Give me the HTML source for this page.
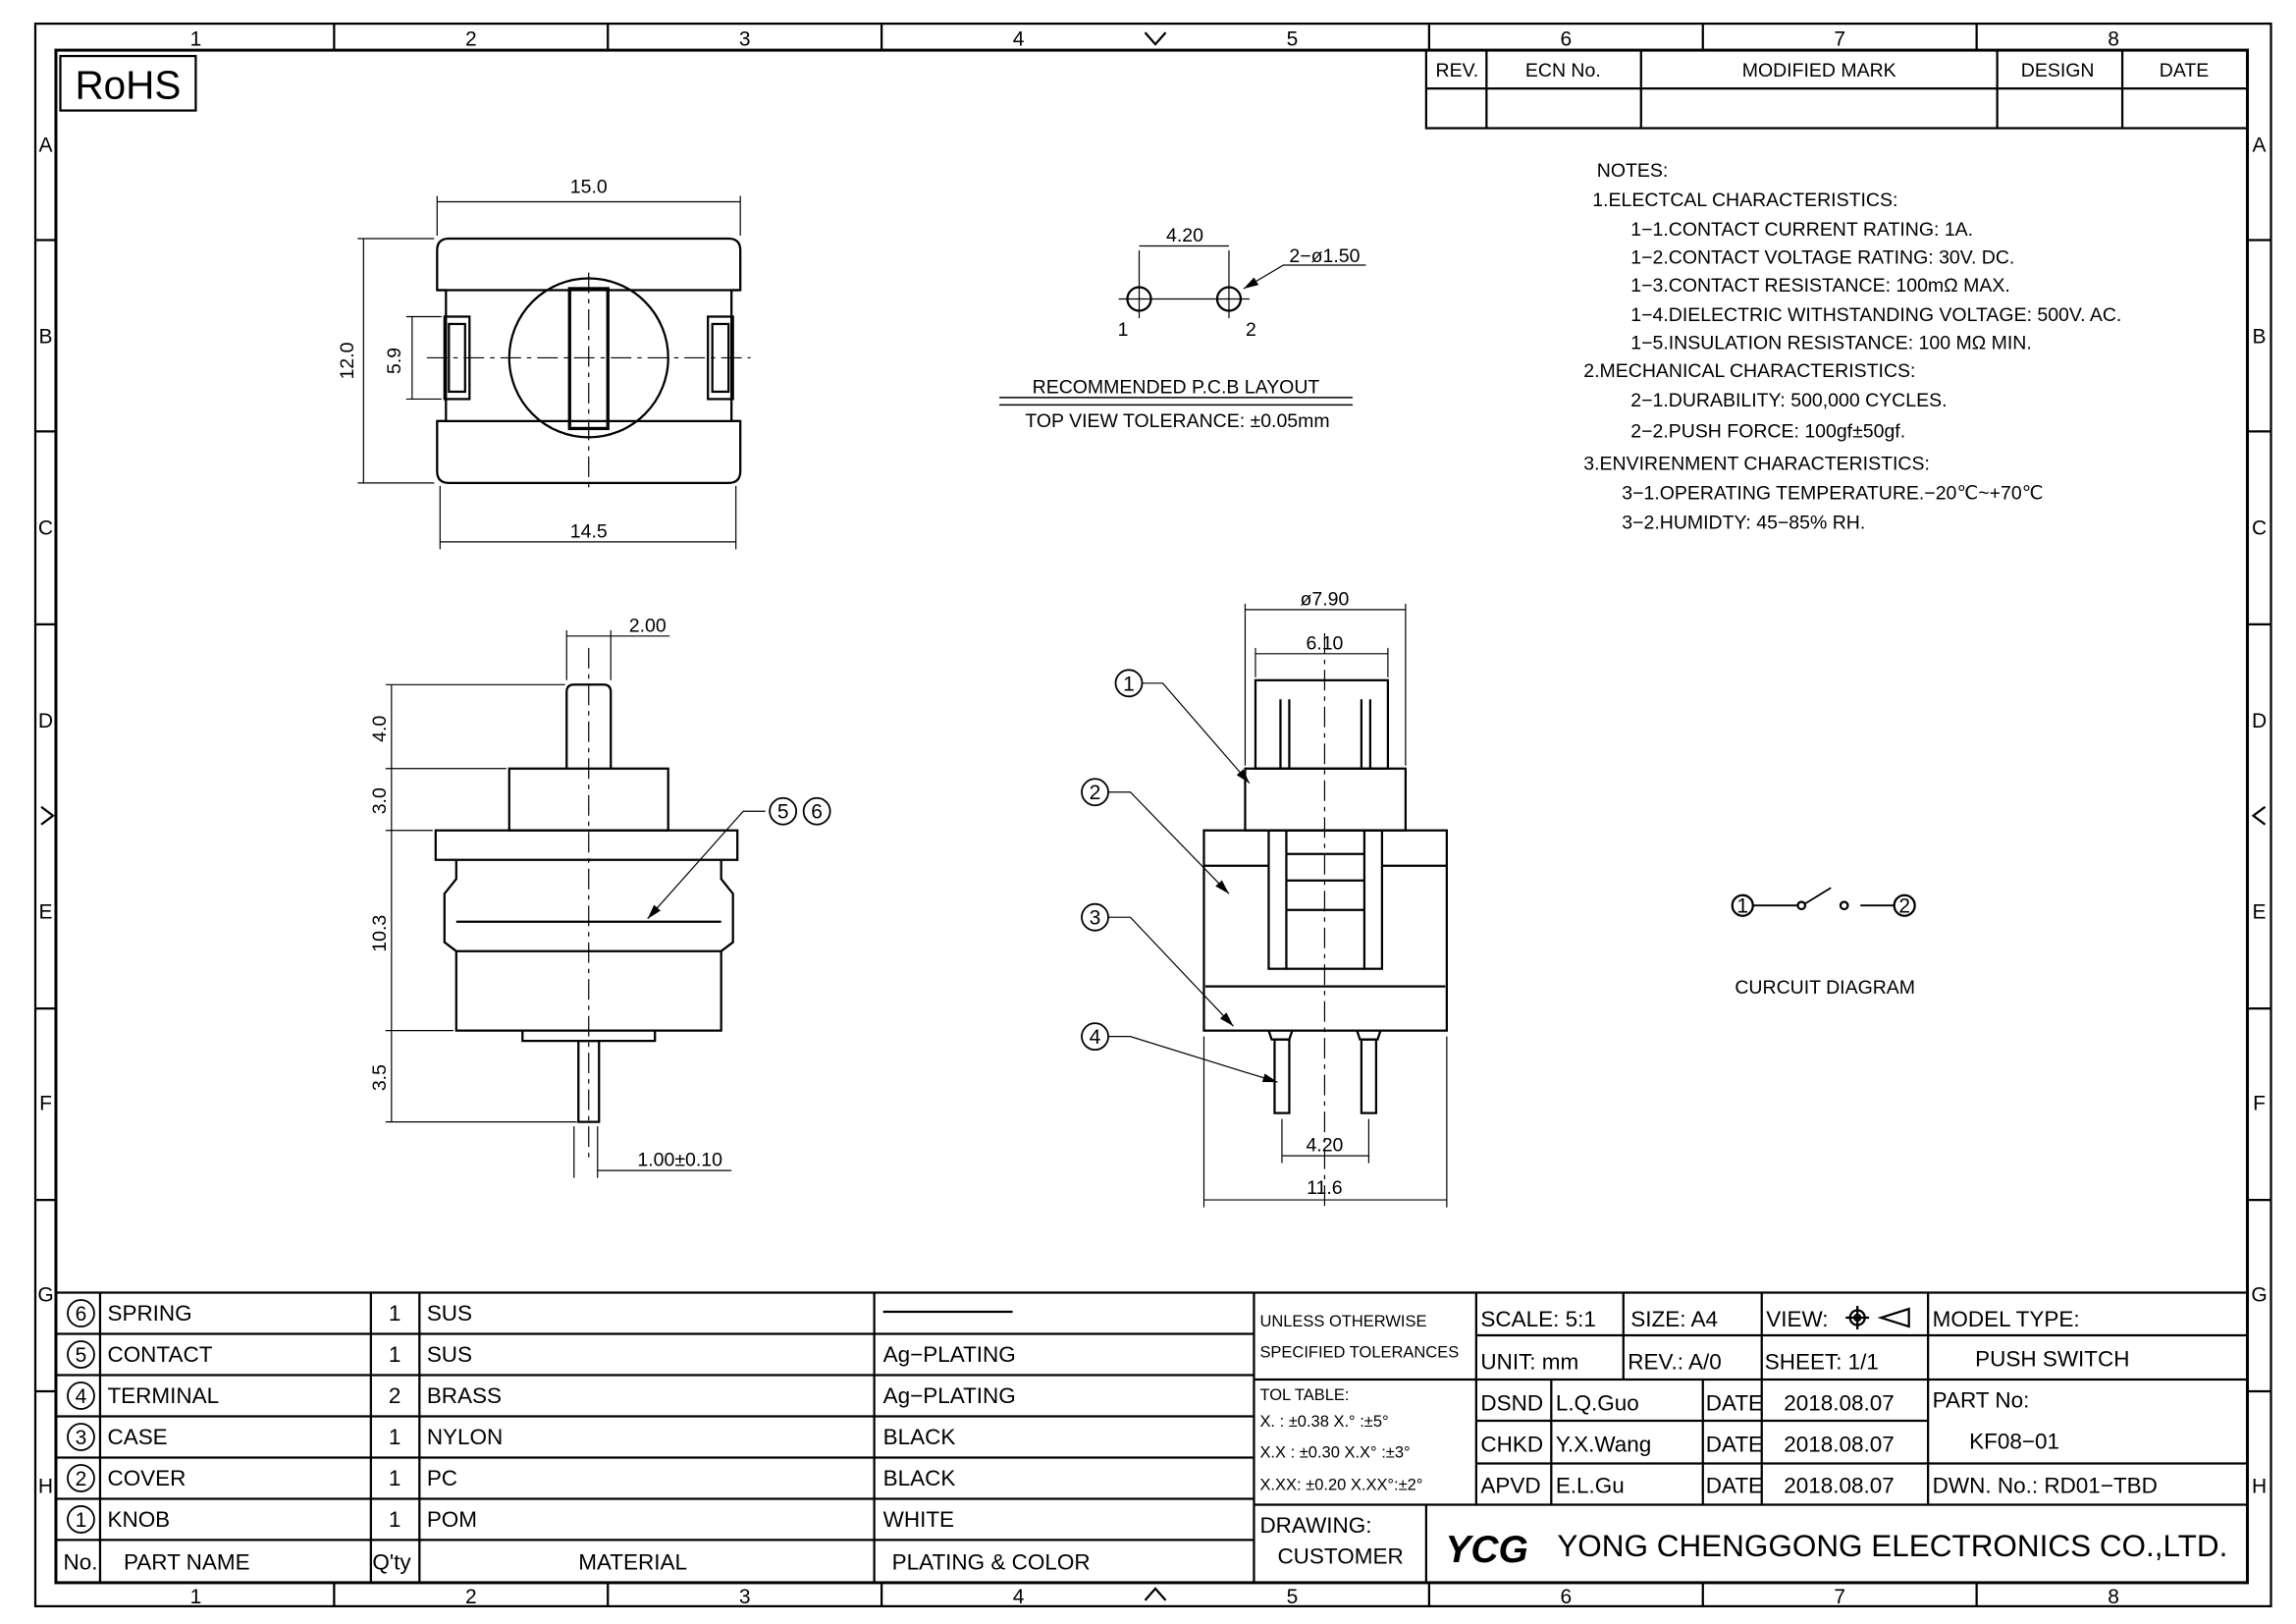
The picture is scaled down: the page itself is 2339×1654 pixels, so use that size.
<!DOCTYPE html>
<html><head><meta charset="utf-8"><style>
html,body{margin:0;padding:0;background:#fff}
svg{display:block}
text{font-family:"Liberation Sans",sans-serif;fill:#000}
</style></head><body>
<svg width="2339" height="1654" viewBox="0 0 1560 1103" xmlns="http://www.w3.org/2000/svg">
<defs>
<marker id="a" viewBox="0 0 10 6" refX="10" refY="3" markerWidth="10" markerHeight="6" markerUnits="userSpaceOnUse" orient="auto"><path d="M0 0L10 3L0 6Z" fill="#000"/></marker>
</defs>
<g fill="none" stroke="#000" stroke-width="1.5">
<rect x="24" y="16" width="1519" height="1075"/>
<rect x="38" y="34" width="1489" height="1041" stroke-width="2"/>
<path d="M227 16V34M413 16V34M599 16V34M971 16V34M1157 16V34M1343 16V34M227 1075V1091M413 1075V1091M599 1075V1091M971 1075V1091M1157 1075V1091M1343 1075V1091"/>
<path d="M24 163H38M24 293H38M24 424H38M24 685H38M24 815H38M24 945H38M1527 163H1543M1527 293H1543M1527 424H1543M1527 685H1543M1527 815H1543M1527 945H1543"/>
<path d="M778 22L785 30L792 22M778 1087L785 1079L792 1087M28 548L36 554L28 560M1539 548L1531 554L1539 560"/>
<rect x="41" y="38" width="92" height="37"/>
<rect x="969" y="34" width="558" height="53"/>
<path d="M969 60H1527M1010 34V87M1115 34V87M1357 34V87M1442 34V87"/>
<path d="M305 162H495Q503 162 503 170V197H497V286H503V320Q503 328 495 328H305Q297 328 297 320V286H303V197H297V170Q297 162 305 162Z"/>
<path d="M297 197H503M297 286H503"/>
<circle cx="400" cy="243" r="54"/>
<rect x="387" y="196" width="26" height="95" stroke-width="2.2"/>
<rect x="302" y="215" width="17" height="56"/><rect x="305" y="220" width="11" height="46"/>
<rect x="481" y="215" width="17" height="56"/><rect x="484" y="220" width="11" height="46"/>
<path d="M290 243H510M400 185V335" stroke-dasharray="14 4 3 4" stroke-width="0.8"/>
<path d="M297 133V160M503 133V160M297 137H503M243 162H295M243 328H295M247 162V328M276 215H300M276 271H300M280 215V271M299 330V373M500 330V373M299 368H500" stroke-width="0.8"/>
<circle cx="774" cy="203" r="8"/><circle cx="835" cy="203" r="8"/>
<path d="M760 203H849M774 190V216M835 190V216M774 170V196M835 170V196M774 167H835M928 180H872L845 196" stroke-width="0.8" marker-end="url(#a)"/>
<path d="M679 270H919M679 275H919" stroke-width="1"/>
<path d="M385 522V470Q385 465 390 465H410Q415 465 415 470V522"/>
<rect x="346" y="522" width="108" height="42"/>
<rect x="296" y="564" width="205" height="20"/>
<path d="M310 584V597L302 607V640L310 646V700H490V646L498 640V607L490 597V584"/>
<path d="M310 626H490M310 646H490M355 700V707H445V700"/>
<rect x="393" y="707" width="14" height="55"/>
<path d="M400 440V790" stroke-dasharray="14 4 3 4" stroke-width="0.8"/>
<path d="M385 428V462M415 428V462M385 432H455M262 465H384M262 522H344M262 564H294M262 700H308M262 762H392M266 465V762M390 765V800M406 765V800M406 795H497" stroke-width="0.8"/>
<path d="M520 551H505L440 624" stroke-width="0.8" marker-end="url(#a)"/>
<rect x="853" y="462" width="90" height="60"/>
<path d="M870 475V522M931 475V522M876 475V522M925 475V522"/>
<rect x="846" y="522" width="109" height="42"/>
<rect x="818" y="564" width="165" height="136"/>
<path d="M818 588H862M939 588H983"/>
<rect x="862" y="564" width="77" height="94"/>
<path d="M874 564V658M927 564V658M874 580H927M874 598H927M874 618H927M819 670H982"/>
<path d="M862 700L864 706H876L878 700M922 700L924 706H936L938 700"/>
<rect x="866" y="706" width="10" height="50"/><rect x="925" y="706" width="10" height="50"/>
<path d="M900 430V820" stroke-dasharray="14 4 3 4" stroke-width="0.8"/>
<path d="M846 410V520M955 410V520M846 414H955M853 440V460M943 440V460M853 444H943M871 760V790M930 760V790M871 785H930M818 704V820M983 704V820M818 815H983" stroke-width="0.8"/>
<g stroke-width="0.8" marker-end="url(#a)">
<path d="M776 464H790L849 532"/><path d="M753 538H768L835 607"/><path d="M753 623H768L838 697"/><path d="M753 704H768L868 735"/>
</g>
<circle cx="1184" cy="615" r="7"/><circle cx="1294" cy="615" r="7"/>
<circle cx="1224" cy="615" r="2.5"/><circle cx="1253" cy="615" r="2.5"/>
<path d="M1191 615H1221M1264 615H1287M1226 614L1244 603" stroke-width="1.2"/>
<path d="M38 878H852M38 906H852M38 934H852M38 962H852M38 990H852M38 1018H852M38 1046H852M68 878V1075M252 878V1075M285 878V1075M594 878V1075M852 878V1075M600 891H688"/>
<path d="M852 878H1527M1003 907H1527M852 937H1527M1003 965H1310M1003 994H1527M852 1022H1527M969 1022V1075M1003 878V1022M1054 937V1022M1103 878V937M1157 937V1022M1197 878V1022M1310 878V1022"/>
<circle cx="1262" cy="895" r="5"/><circle cx="1262" cy="895" r="2"/>
<path d="M1254 895H1270M1262 887V903M1278 895L1297 889V901Z"/>
<g stroke-width="1.2">
<circle cx="55" cy="892" r="9"/><circle cx="55" cy="920" r="9"/><circle cx="55" cy="948" r="9"/><circle cx="55" cy="976" r="9"/><circle cx="55" cy="1004" r="9"/><circle cx="55" cy="1032" r="9"/>
<circle cx="767" cy="464" r="9"/><circle cx="744" cy="538" r="9"/><circle cx="744" cy="623" r="9"/><circle cx="744" cy="704" r="9"/>
<circle cx="532" cy="551" r="9"/><circle cx="555" cy="551" r="9"/>
</g>
</g>
<g font-size="14" text-anchor="middle">
<text x="133" y="31">1</text><text x="320" y="31">2</text><text x="506" y="31">3</text><text x="692" y="31">4</text><text x="878" y="31">5</text><text x="1064" y="31">6</text><text x="1250" y="31">7</text><text x="1436" y="31">8</text>
<text x="133" y="1089">1</text><text x="320" y="1089">2</text><text x="506" y="1089">3</text><text x="692" y="1089">4</text><text x="878" y="1089">5</text><text x="1064" y="1089">6</text><text x="1250" y="1089">7</text><text x="1436" y="1089">8</text>
<text x="31" y="103">A</text><text x="31" y="233">B</text><text x="31" y="363">C</text><text x="31" y="494">D</text><text x="31" y="624">E</text><text x="31" y="754">F</text><text x="31" y="884">G</text><text x="31" y="1014">H</text>
<text x="1535" y="103">A</text><text x="1535" y="233">B</text><text x="1535" y="363">C</text><text x="1535" y="494">D</text><text x="1535" y="624">E</text><text x="1535" y="754">F</text><text x="1535" y="884">G</text><text x="1535" y="1014">H</text>
</g>
<text x="87" y="67" font-size="27" text-anchor="middle">RoHS</text>
<g font-size="13" text-anchor="middle">
<text x="990" y="52">REV.</text><text x="1062" y="52">ECN No.</text><text x="1236" y="52">MODIFIED MARK</text><text x="1398" y="52">DESIGN</text><text x="1484" y="52">DATE</text>
<text x="400" y="131">15.0</text><text x="400" y="365">14.5</text>
<text transform="translate(240,245) rotate(-90)">12.0</text><text transform="translate(272,245) rotate(-90)">5.9</text>
<text x="805" y="164">4.20</text><text x="900" y="178">2−ø1.50</text><text x="763" y="228">1</text><text x="850" y="228">2</text>
<text x="799" y="267">RECOMMENDED P.C.B LAYOUT</text><text x="800" y="290">TOP VIEW TOLERANCE: ±0.05mm</text>
<text x="440" y="429">2.00</text>
<text transform="translate(262,495) rotate(-90)">4.0</text><text transform="translate(262,544) rotate(-90)">3.0</text><text transform="translate(262,634) rotate(-90)">10.3</text><text transform="translate(262,732) rotate(-90)">3.5</text>
<text x="462" y="792">1.00±0.10</text>
<text x="900" y="411">ø7.90</text><text x="900" y="441">6.10</text><text x="900" y="782">4.20</text><text x="900" y="811">11.6</text>
<text x="1240" y="675">CURCUIT DIAGRAM</text>
</g>
<g font-size="14" text-anchor="middle">
<text x="55" y="897">6</text><text x="55" y="925">5</text><text x="55" y="953">4</text><text x="55" y="981">3</text><text x="55" y="1009">2</text><text x="55" y="1037">1</text>
<text x="767" y="469">1</text><text x="744" y="543">2</text><text x="744" y="628">3</text><text x="744" y="709">4</text><text x="532" y="556">5</text><text x="555" y="556">6</text>
<text x="1184" y="620">1</text><text x="1294" y="620">2</text>
</g>
<g font-size="13">
<text x="1085" y="120">NOTES:</text>
<text x="1082" y="140">1.ELECTCAL CHARACTERISTICS:</text>
<text x="1108" y="160">1−1.CONTACT CURRENT RATING:   1A.</text>
<text x="1108" y="179">1−2.CONTACT VOLTAGE RATING:  30V. DC.</text>
<text x="1108" y="198">1−3.CONTACT RESISTANCE:  100mΩ MAX.</text>
<text x="1108" y="218">1−4.DIELECTRIC WITHSTANDING VOLTAGE:  500V. AC.</text>
<text x="1108" y="237">1−5.INSULATION RESISTANCE:  100 MΩ MIN.</text>
<text x="1076" y="256">2.MECHANICAL CHARACTERISTICS:</text>
<text x="1108" y="276">2−1.DURABILITY: 500,000 CYCLES.</text>
<text x="1108" y="297">2−2.PUSH FORCE: 100gf±50gf.</text>
<text x="1076" y="319">3.ENVIRENMENT CHARACTERISTICS:</text>
<text x="1102" y="339">3−1.OPERATING TEMPERATURE.−20℃~+70℃</text>
<text x="1102" y="359">3−2.HUMIDTY: 45−85% RH.</text>
</g>
<g font-size="15">
<text x="73" y="897">SPRING</text><text x="73" y="925">CONTACT</text><text x="73" y="953">TERMINAL</text><text x="73" y="981">CASE</text><text x="73" y="1009">COVER</text><text x="73" y="1037">KNOB</text>
<text x="264" y="897">1</text><text x="264" y="925">1</text><text x="264" y="953">2</text><text x="264" y="981">1</text><text x="264" y="1009">1</text><text x="264" y="1037">1</text>
<text x="290" y="897">SUS</text><text x="290" y="925">SUS</text><text x="290" y="953">BRASS</text><text x="290" y="981">NYLON</text><text x="290" y="1009">PC</text><text x="290" y="1037">POM</text>
<text x="600" y="925">Ag−PLATING</text><text x="600" y="953">Ag−PLATING</text><text x="600" y="981">BLACK</text><text x="600" y="1009">BLACK</text><text x="600" y="1037">WHITE</text>
<text x="43" y="1066">No.</text><text x="84" y="1066">PART NAME</text><text x="253" y="1066">Q'ty</text><text x="393" y="1066">MATERIAL</text><text x="606" y="1066">PLATING &amp; COLOR</text>
<text x="1006" y="901">SCALE: 5:1</text><text x="1108" y="901">SIZE: A4</text><text x="1200" y="901">VIEW:</text><text x="1313" y="901">MODEL TYPE:</text>
<text x="1006" y="930">UNIT: mm</text><text x="1106" y="930">REV.: A/0</text><text x="1199" y="930">SHEET: 1/1</text><text x="1342" y="928">PUSH SWITCH</text>
<text x="1006" y="958">DSND</text><text x="1057" y="958">L.Q.Guo</text><text x="1159" y="958">DATE</text><text x="1212" y="958">2018.08.07</text><text x="1313" y="956">PART No:</text>
<text x="1006" y="986">CHKD</text><text x="1057" y="986">Y.X.Wang</text><text x="1159" y="986">DATE</text><text x="1212" y="986">2018.08.07</text><text x="1338" y="984">KF08−01</text>
<text x="1006" y="1014">APVD</text><text x="1057" y="1014">E.L.Gu</text><text x="1159" y="1014">DATE</text><text x="1212" y="1014">2018.08.07</text><text x="1313" y="1014">DWN. No.: RD01−TBD</text>
<text x="856" y="1041">DRAWING:</text><text x="868" y="1062">CUSTOMER</text>
</g>
<g font-size="11">
<text x="856" y="901">UNLESS OTHERWISE</text><text x="856" y="922">SPECIFIED TOLERANCES</text>
<text x="856" y="951">TOL TABLE:</text><text x="856" y="969">X.  : ±0.38   X.° :±5°</text><text x="856" y="990">X.X : ±0.30   X.X° :±3°</text><text x="856" y="1012">X.XX: ±0.20   X.XX°:±2°</text>
</g>
<text x="982" y="1061" font-size="26" font-weight="bold" font-style="italic">YCG</text>
<text x="1058" y="1057" font-size="21">YONG  CHENGGONG  ELECTRONICS  CO.,LTD.</text>
</svg>
</body></html>
